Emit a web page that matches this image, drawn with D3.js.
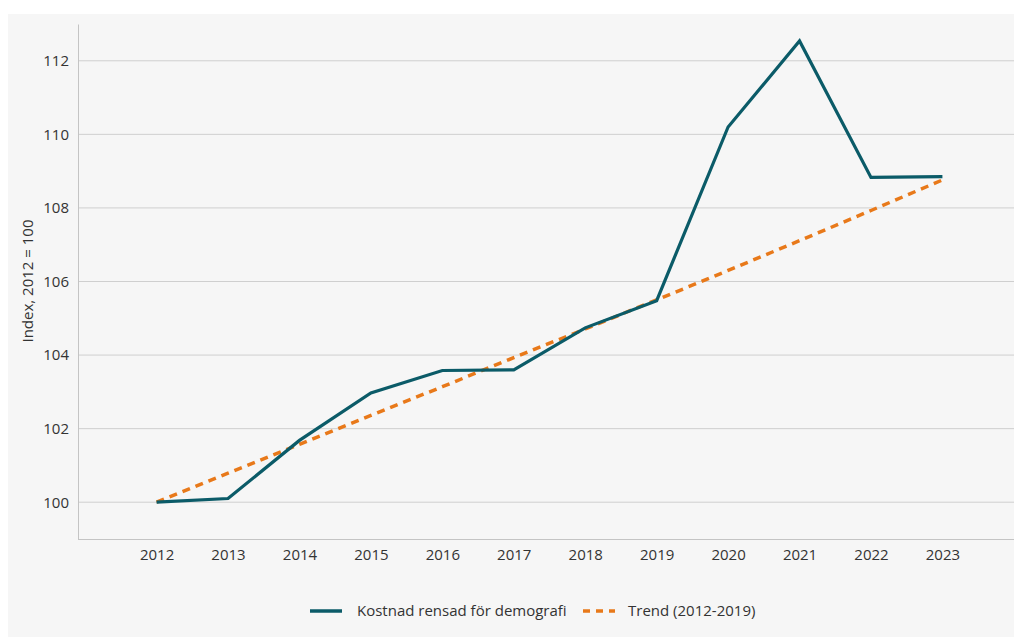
<!DOCTYPE html>
<html>
<head>
<meta charset="utf-8">
<script src="https://cdn.jsdelivr.net/npm/d3@7"></script>
<style>
  body { margin: 0; background: #fff; }
  text { font-family: "Open Sans", "Noto Sans", sans-serif; fill: #333; }
</style>
</head>
<body>
<svg id="chart" width="1014" height="637"></svg>
<script>
var years = [2012, 2013, 2014, 2015, 2016, 2017, 2018, 2019, 2020, 2021, 2022, 2023];
var kostnad = [100, 100.1, 101.68, 102.97, 103.58, 103.6, 104.74, 105.48, 110.2, 112.54, 108.83, 108.85];
var trend = [100, 100.79, 101.57, 102.36, 103.14, 103.93, 104.71, 105.5, 106.3, 107.11, 107.93, 108.76];
var yTicks = [100, 102, 104, 106, 108, 110, 112];
var seriesNames = ["Kostnad rensad för demografi", "Trend (2012-2019)"];

var teal = "#0b5b68";
var orange = "#e8791a";

var svg = d3.select("#chart");

// panel background
svg.append("rect")
  .attr("x", 8).attr("y", 14)
  .attr("width", 1014).attr("height", 640)
  .attr("fill", "#f6f6f6");

var x = d3.scalePoint()
  .domain(years)
  .range([78, 1021])
  .padding(1.1);

var y = d3.scaleLinear()
  .domain([99, 113])
  .range([539, 24]);

// gridlines
svg.append("g")
  .selectAll("line")
  .data(yTicks)
  .enter()
  .append("line")
  .attr("x1", 78)
  .attr("x2", 1014)
  .attr("y1", function(d) { return y(d); })
  .attr("y2", function(d) { return y(d); })
  .attr("stroke", "#cfcfcf")
  .attr("stroke-width", 1);

// y axis
var yAxis = svg.append("g")
  .attr("transform", "translate(78,0)")
  .call(d3.axisLeft(y).tickValues(yTicks).tickSize(0).tickPadding(9));
yAxis.select(".domain").attr("stroke", "#c4c4c4");
yAxis.selectAll("text").attr("font-size", "15px").attr("fill", "#333");

// x axis
var xAxis = svg.append("g")
  .attr("transform", "translate(0,539)")
  .call(d3.axisBottom(x).tickSize(0).tickPadding(10));
xAxis.select(".domain").attr("stroke", "#c4c4c4").attr("d", "M78,0.5H1014");
xAxis.selectAll("text").attr("font-size", "15px").attr("fill", "#333");

// y axis title
svg.append("text")
  .attr("transform", "translate(33,281) rotate(-90)")
  .attr("text-anchor", "middle")
  .attr("font-size", "15px")
  .text("Index, 2012 = 100");

var line = d3.line()
  .x(function(d, i) { return x(years[i]); })
  .y(function(d) { return y(d); });

svg.append("path")
  .datum(trend)
  .attr("fill", "none")
  .attr("stroke", orange)
  .attr("stroke-width", 3.5)
  .attr("stroke-dasharray", "8,6")
  .attr("d", line);

svg.append("path")
  .datum(kostnad)
  .attr("fill", "none")
  .attr("stroke", teal)
  .attr("stroke-width", 3.2)
  .attr("stroke-linejoin", "miter")
  .attr("d", line);

// legend
var legend = svg.append("g");
legend.append("line")
  .attr("x1", 310).attr("x2", 342)
  .attr("y1", 611).attr("y2", 611)
  .attr("stroke", teal).attr("stroke-width", 3.5);
legend.append("text")
  .attr("x", 357).attr("y", 616)
  .attr("font-size", "15px")
  .text(seriesNames[0]);
legend.append("line")
  .attr("x1", 583).attr("x2", 615)
  .attr("y1", 611).attr("y2", 611)
  .attr("stroke", orange).attr("stroke-width", 3.5)
  .attr("stroke-dasharray", "7,6");
legend.append("text")
  .attr("x", 628).attr("y", 616)
  .attr("font-size", "15px")
  .text(seriesNames[1]);
</script>
</body>
</html>
